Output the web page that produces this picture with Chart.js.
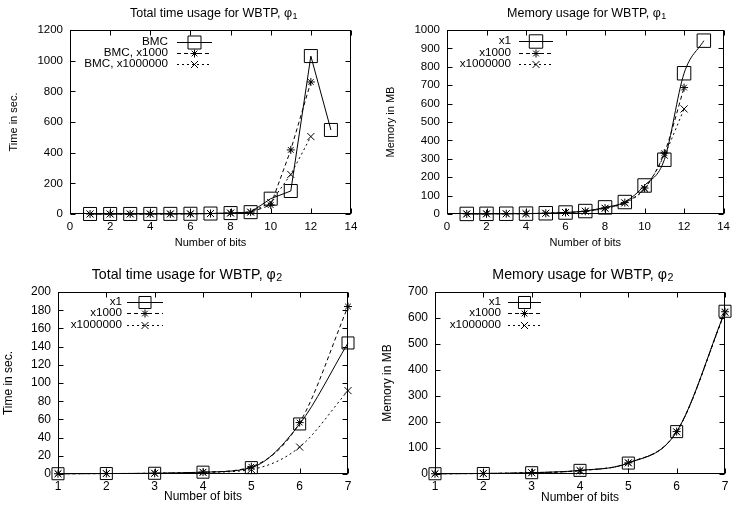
<!DOCTYPE html>
<html><head><meta charset="utf-8">
<script src="https://cdn.jsdelivr.net/npm/chart.js@4/dist/chart.umd.min.js"></script>
<style>
html,body{margin:0;padding:0;background:#fff;}
#wrap{position:relative;width:736px;height:515px;overflow:hidden;background:#fff;}
canvas{position:absolute;}
</style></head><body>
<div id="wrap">
<canvas id="cA" width="368" height="250" style="left:0;top:0"></canvas>
<canvas id="cB" width="368" height="250" style="left:368px;top:0"></canvas>
<canvas id="cC" width="368" height="265" style="left:0;top:250px"></canvas>
<canvas id="cD" width="368" height="265" style="left:368px;top:250px"></canvas>
</div>
<script>
// ---- data ----
const bitsA = [1,2,3,4,5,6,7,8,9,10,11,12,13];
const timeA_x1 = [0.1,0.2,0.3,0.5,0.8,1.5,3,6,12,100,150,1030,548];
const timeA_x1000 = [0.1,0.2,0.3,0.5,0.8,1.5,3,6,12,58,418,861];
const timeA_x1e6 = [0.1,0.2,0.3,0.5,0.8,1.5,3,6,12,75,258,505];
const memB_x1 = [0.5,1,1.5,2,4,8,16,36,65,155,295,765,942];
const memB_x1000 = [0.5,1,1.5,2,4,8,15,32,62,141,331,687];
const memB_x1e6 = [0.5,1,1.5,2,4,8,15,31,60,137,320,571];
const bitsC = [1,2,3,4,5,6,7];
const timeC_x1 = [0.3,0.5,0.8,2,7,55,144];
const timeC_x1000 = [0.3,0.5,0.8,2,8,56.5,184];
const timeC_x1e6 = [0.3,0.5,0.8,1.8,5,29.6,91.6];
const memD_x1 = [1,2,5,14,42,163,626];
const memD_x1000 = [1,2,5,13,43,163,624];
const memD_x1e6 = [1,2,5,13,43,162,622];
const labelsBMC = ['BMC','BMC, x1000','BMC, x1000000'];
const labelsX = ['x1','x1000','x1000000'];

const FONT = "'Liberation Sans', Arial, Helvetica, sans-serif";
const pts = (xs, ys) => ys.map((y,i)=>({x:xs[i], y:y}));
const STY = [
  {pointStyle:'rect', dash:[], r:9},
  {pointStyle:'star', dash:[4,3], r:4},
  {pointStyle:'crossRot', dash:[2,3], r:5}
];

function drawPt(ctx, style, r, x, y){
  if (Chart.helpers && Chart.helpers.drawPoint) {
    ctx.save();
    ctx.fillStyle = 'rgba(0,0,0,0)';
    ctx.strokeStyle = '#000';
    ctx.lineWidth = 1;
    ctx.setLineDash([]);
    Chart.helpers.drawPoint(ctx, {pointStyle:style, radius:r, borderWidth:1, rotation:0}, x, y);
    ctx.restore();
  }
}

function makeChart(id, c){
  const W = c.W, H = c.H;
  const f = c.fs;
  const gp = {
    id:'gp',
    beforeDatasetsDraw(chart){
      const ctx = chart.ctx, a = chart.chartArea;
      ctx.save();
      ctx.strokeStyle = '#000'; ctx.lineWidth = 1; ctx.setLineDash([]);
      const L = Math.round(a.left)+0.5, R = Math.round(a.right)-0.5, T = Math.round(a.top)+0.5, B = Math.round(a.bottom)-0.5;
      ctx.strokeRect(L, T, R-L, B-T);
      const tl = 5;
      ctx.beginPath();
      chart.scales.x.ticks.forEach(t=>{
        const px = Math.round(chart.scales.x.getPixelForValue(t.value))+0.5;
        ctx.moveTo(px, B); ctx.lineTo(px, B-tl);
        ctx.moveTo(px, T); ctx.lineTo(px, T+tl);
      });
      chart.scales.y.ticks.forEach(t=>{
        const py = Math.round(chart.scales.y.getPixelForValue(t.value))+0.5;
        ctx.moveTo(L, py); ctx.lineTo(L+tl, py);
        ctx.moveTo(R, py); ctx.lineTo(R-tl, py);
      });
      ctx.stroke();
      ctx.restore();
    },
    afterDraw(chart){
      const ctx = chart.ctx;
      ctx.save();
      ctx.fillStyle = '#000';
      ctx.textBaseline = 'middle';
      ctx.textAlign = 'left';
      ctx.font = f.title + 'px ' + FONT;
      const w1 = ctx.measureText(c.title).width;
      ctx.font = (f.title-3.5) + 'px ' + FONT;
      const w2 = ctx.measureText(c.sub).width;
      const x0 = c.titleX - (w1+w2)/2;
      ctx.font = f.title + 'px ' + FONT;
      ctx.fillText(c.title, x0, c.titleY);
      ctx.font = (f.title-3.5) + 'px ' + FONT;
      ctx.fillText(c.sub, x0 + w1 + 0.5, c.titleY + 3);
      ctx.font = f.leg + 'px ' + FONT;
      ctx.textAlign = 'right';
      chart.data.datasets.forEach((ds, i)=>{
        const y = c.leg.rows[i];
        ctx.fillStyle = '#000';
        ctx.fillText(ds.label, c.leg.textRight, y);
        ctx.strokeStyle = '#000'; ctx.lineWidth = 1;
        ctx.setLineDash(ds.borderDash || []);
        ctx.beginPath();
        ctx.moveTo(c.leg.x1, Math.round(y)+0.5); ctx.lineTo(c.leg.x2, Math.round(y)+0.5);
        ctx.stroke();
        ctx.setLineDash([]);
        drawPt(ctx, ds.pointStyle, ds.pointRadius, (c.leg.x1+c.leg.x2)/2, Math.round(y)+0.5);
      });
      ctx.restore();
    }
  };
  const datasets = c.series.map((s,i)=>({
    label: c.labels[i],
    data: pts(c.xs, s),
    borderColor:'#000',
    borderWidth:1,
    borderDash: STY[i].dash,
    pointStyle: STY[i].pointStyle,
    pointRadius: i===0 ? c.sqR : STY[i].r,
    pointHoverRadius: i===0 ? c.sqR : STY[i].r,
    pointBorderColor:'#000',
    pointBackgroundColor:'rgba(0,0,0,0)',
    pointBorderWidth:1,
    fill:false,
    tension: 0,
    cubicInterpolationMode: c.smooth ? 'monotone' : 'default',
    clip:false
  }));
  const axLH = f.axis*1.2;
  return new Chart(document.getElementById(id), {
    type:'line',
    data:{datasets},
    plugins:[gp],
    options:{
      responsive:false, animation:false, devicePixelRatio:1,
      layout:{padding:{left:0, top:c.plot.t, right:W-c.plot.r, bottom:0}},
      plugins:{legend:{display:false}, title:{display:false}, tooltip:{enabled:false}},
      scales:{
        x:{type:'linear', min:c.xMin, max:c.xMax,
           ticks:{stepSize:c.xStep, padding:c.xTickPad, color:'#000', font:{family:FONT, size:f.tick}, callback:v=>String(v), maxRotation:0, autoSkip:false},
           grid:{display:false, drawTicks:false}, border:{display:false},
           title:{display:true, text:'Number of bits', color:'#000', font:{family:FONT, size:f.axis, lineHeight:1.2}, padding:{top:0,bottom:Math.max(0, H - c.xTitleY - axLH/2)}},
           afterFit:(s)=>{ s.height = H - c.plot.b; }},
        y:{type:'linear', min:c.yMin, max:c.yMax,
           ticks:{stepSize:c.yStep, padding:7, color:'#000', font:{family:FONT, size:f.tick}, callback:v=>String(v), autoSkip:false},
           grid:{display:false, drawTicks:false}, border:{display:false},
           title:{display:true, text:c.yTitle, color:'#000', font:{family:FONT, size:f.axis, lineHeight:1.2}, padding:{top:Math.max(0, c.yTitleX - axLH/2),bottom:0}},
           afterFit:(s)=>{ s.width = c.plot.l; }}
      }
    }
  });
}

const fsTop = {title:12.5, tick:11.5, axis:11, leg:11.7};
const fsBot = {title:14.2, tick:12, axis:12, leg:11.7};

makeChart('cA', {W:368,H:250, plot:{l:70,r:351,t:30,b:214}, fs:fsTop,
  title:'Total time usage for WBTP, φ', sub:'1', titleX:213.5, titleY:13.5,
  xs:bitsA, series:[timeA_x1,timeA_x1000,timeA_x1e6], labels:labelsBMC,
  xMin:0,xMax:14,xStep:2,yMin:0,yMax:1200,yStep:200, xTickPad:6,
  yTitle:'Time in sec.', yTitleX:13.5, xTitleY:243.3, sqR:9.2, smooth:false,
  leg:{textRight:168, x1:177, x2:212, rows:[42,53,64]}});
makeChart('cB', {W:368,H:250, plot:{l:79,r:359,t:30,b:214}, fs:fsTop,
  title:'Memory usage for WBTP, φ', sub:'1', titleX:218.5, titleY:13.5,
  xs:bitsA, series:[memB_x1,memB_x1000,memB_x1e6], labels:labelsX,
  xMin:0,xMax:14,xStep:2,yMin:0,yMax:1000,yStep:100, xTickPad:6,
  yTitle:'Memory in MB', yTitleX:23, xTitleY:243, sqR:9.5, smooth:true,
  leg:{textRight:143, x1:151, x2:185, rows:[41,52.5,64]}});
makeChart('cC', {W:368,H:265, plot:{l:58,r:348,t:42,b:224}, fs:fsBot,
  title:'Total time usage for WBTP, φ', sub:'2', titleX:186.7, titleY:25,
  xs:bitsC, series:[timeC_x1,timeC_x1000,timeC_x1e6], labels:labelsX,
  xMin:1,xMax:7,xStep:1,yMin:0,yMax:200,yStep:20, xTickPad:5,
  yTitle:'Time in sec.', yTitleX:9, xTitleY:246.7, sqR:8.5, smooth:true,
  leg:{textRight:122, x1:127, x2:163, rows:[51.7,63,75]}});
makeChart('cD', {W:368,H:265, plot:{l:67,r:357,t:42,b:224}, fs:fsBot,
  title:'Memory usage for WBTP, φ', sub:'2', titleX:214.6, titleY:25,
  xs:bitsC, series:[memD_x1,memD_x1000,memD_x1e6], labels:labelsX,
  xMin:1,xMax:7,xStep:1,yMin:0,yMax:700,yStep:100, xTickPad:5,
  yTitle:'Memory in MB', yTitleX:19.6, xTitleY:248, sqR:8.5, smooth:true,
  leg:{textRight:133, x1:140, x2:173, rows:[51.7,63,75]}});
</script>
</body></html>
